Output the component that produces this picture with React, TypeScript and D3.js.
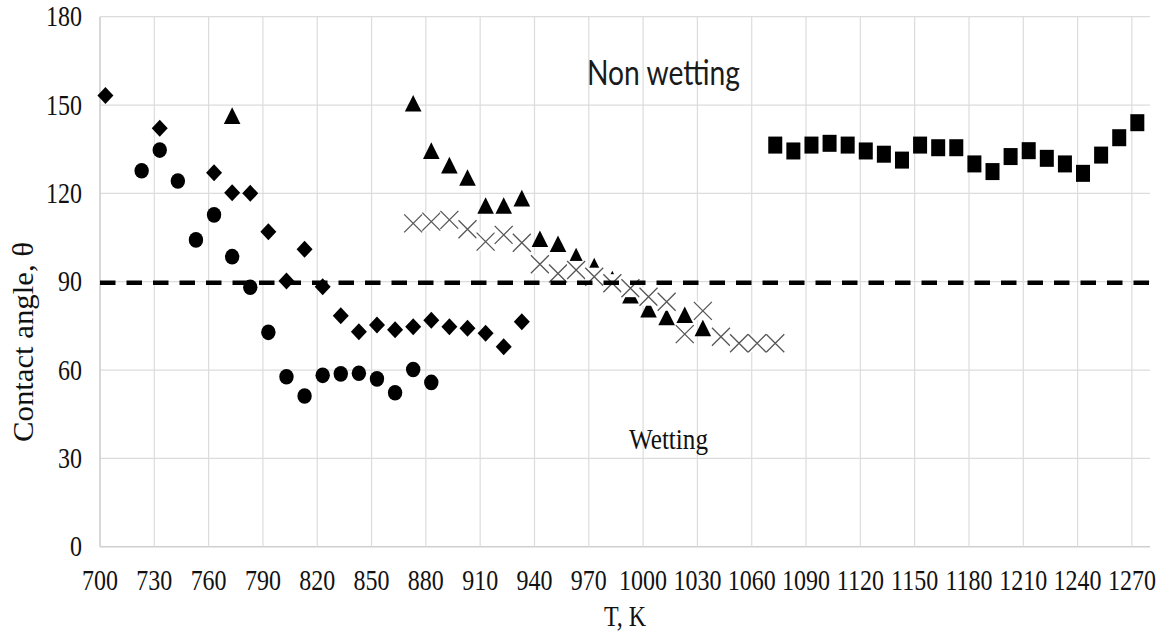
import React, { useEffect, useRef } from 'react';
import * as d3 from 'd3';

// diamonds
const diamondT = [703, 733, 763, 773, 783, 793, 803, 813, 823, 833, 843, 853, 863, 873, 883, 893, 903, 913, 923, 933];
const diamondAngle = [153.2, 142.1, 127.0, 120.2, 120.0, 107.0, 90.2, 101.0, 88.3, 78.4, 73.0, 75.3, 73.7, 74.7, 76.9, 74.7, 74.2, 72.5, 67.9, 76.4];

// circles
const circleT = [723, 733, 743, 753, 763, 773, 783, 793, 803, 813, 823, 833, 843, 853, 863, 873, 883];
const circleAngle = [127.7, 134.7, 124.2, 104.2, 112.7, 98.5, 88.1, 72.8, 57.7, 51.2, 58.2, 58.7, 58.9, 57.0, 52.3, 60.2, 55.8];

// triangles
const triangleT = [773, 873, 883, 893, 903, 913, 923, 933, 943, 953, 963, 973, 983, 993, 1003, 1013, 1023, 1033];
const triangleAngle = [146.4, 150.6, 134.5, 129.6, 125.4, 115.9, 115.9, 118.4, 104.6, 102.9, 98.7, 95.3, 90.9, 85.4, 80.7, 78.0, 78.8, 74.3];

// crosses
const crossT = [873, 883, 893, 903, 913, 923, 933, 943, 953, 963, 973, 983, 993, 1003, 1013, 1023, 1033, 1043, 1053, 1063, 1073];
const crossAngle = [109.8, 110.4, 111.0, 107.8, 103.6, 105.9, 103.2, 95.9, 92.8, 94.0, 91.7, 89.5, 87.8, 84.9, 83.2, 72.2, 80.1, 71.3, 69.1, 69.1, 69.1];

// squares
const squareT = [1073, 1083, 1093, 1103, 1113, 1123, 1133, 1143, 1153, 1163, 1173, 1183, 1193, 1203, 1213, 1223, 1233, 1243, 1253, 1263, 1273];
const squareAngle = [136.4, 134.4, 136.4, 137.0, 136.4, 134.4, 133.3, 131.3, 136.4, 135.5, 135.5, 130.0, 127.4, 132.5, 134.5, 131.9, 130.0, 126.8, 133.0, 138.9, 144.0];

const xTicks = d3.range(700, 1271, 30);
const yTicks = [0, 30, 60, 90, 120, 150, 180];
const boundary = 90;

const serif = '"Liberation Serif", "Times New Roman", serif';

export default function App() {
  const ref = useRef<SVGSVGElement>(null);

  useEffect(() => {
    document.body.style.margin = '0';
    const svg = d3.select(ref.current);
    svg.selectAll('*').remove();

    const x = d3.scaleLinear().domain([700, 1280]).range([100, 1150]);
    const y = d3.scaleLinear().domain([0, 180]).range([546.7, 16.7]);

    // grid
    const grid = svg.append('g');
    grid.selectAll('.hg')
      .data(yTicks)
      .enter()
      .append('line')
      .attr('x1', x(700))
      .attr('x2', x(1280))
      .attr('y1', d => y(d))
      .attr('y2', d => y(d))
      .attr('stroke', d => (d === 0 ? '#cfcfcf' : '#dcdcdc'))
      .attr('stroke-width', d => (d === 0 ? 1.6 : 1.2));

    grid.selectAll('.vg')
      .data(xTicks)
      .enter()
      .append('line')
      .attr('x1', d => x(d))
      .attr('x2', d => x(d))
      .attr('y1', y(180))
      .attr('y2', y(0))
      .attr('stroke', d => (d === 700 ? '#cfcfcf' : '#dcdcdc'))
      .attr('stroke-width', d => (d === 700 ? 1.6 : 1.2));

    // tick labels
    svg.append('g')
      .selectAll('text')
      .data(yTicks)
      .enter()
      .append('text')
      .attr('transform', d => `translate(82,${y(d)}) scale(1,1.2)`)
      .attr('y', 8)
      .attr('text-anchor', 'end')
      .style('font-family', serif)
      .style('font-size', '24px')
      .style('fill', '#111')
      .text(d => d);

    svg.append('g')
      .selectAll('text')
      .data(xTicks)
      .enter()
      .append('text')
      .attr('transform', d => `translate(${x(d)},590) scale(1,1.2)`)
      .attr('text-anchor', 'middle')
      .style('font-family', serif)
      .style('font-size', '24px')
      .style('fill', '#111')
      .text(d => d);

    // axis titles
    svg.append('text')
      .attr('transform', 'translate(33,342) rotate(-90)')
      .attr('text-anchor', 'middle')
      .attr('textLength', 200)
      .attr('lengthAdjust', 'spacingAndGlyphs')
      .style('font-family', serif)
      .style('font-size', '30px')
      .style('fill', '#111')
      .text('Contact angle, θ');

    svg.append('text')
      .attr('transform', 'translate(625,626) scale(1,1.2)')
      .attr('text-anchor', 'middle')
      .style('font-family', serif)
      .style('font-size', '24px')
      .style('fill', '#111')
      .text('T, K');

    // region labels
    svg.append('text')
      .attr('transform', 'translate(587,85) scale(1,1.2)')
      .attr('textLength', 153)
      .attr('lengthAdjust', 'spacingAndGlyphs')
      .style('font-family', 'Lato, "Open Sans", sans-serif')
      .style('font-size', '29px')
      .style('fill', '#1a1a1a')
      .text('Non wetting');

    svg.append('text')
      .attr('transform', 'translate(629,449) scale(1,1.25)')
      .attr('textLength', 79)
      .attr('lengthAdjust', 'spacingAndGlyphs')
      .style('font-family', serif)
      .style('font-size', '24px')
      .style('fill', '#111')
      .text('Wetting');

    const zip = (ts: number[], vs: number[]) => ts.map((t, i) => ({ t, v: vs[i] }));
    const marks = svg.append('g');

    // diamonds
    marks.selectAll('.dia')
      .data(zip(diamondT, diamondAngle))
      .enter()
      .append('path')
      .attr('d', d => {
        const cx = x(d.t), cy = y(d.v);
        return `M${cx},${cy - 8.5}L${cx + 8},${cy}L${cx},${cy + 8.5}L${cx - 8},${cy}Z`;
      })
      .attr('fill', '#000');

    // circles
    marks.selectAll('.cir')
      .data(zip(circleT, circleAngle))
      .enter()
      .append('ellipse')
      .attr('cx', d => x(d.t))
      .attr('cy', d => y(d.v))
      .attr('rx', 7.2)
      .attr('ry', 7.8)
      .attr('fill', '#000');

    // triangles
    marks.selectAll('.tri')
      .data(zip(triangleT, triangleAngle))
      .enter()
      .append('path')
      .attr('d', d => {
        const cx = x(d.t), cy = y(d.v);
        return `M${cx},${cy - 8.3}L${cx + 8.3},${cy + 8.3}L${cx - 8.3},${cy + 8.3}Z`;
      })
      .attr('fill', '#000');

    // squares
    marks.selectAll('.sq')
      .data(zip(squareT, squareAngle))
      .enter()
      .append('rect')
      .attr('x', d => x(d.t) - 7)
      .attr('y', d => y(d.v) - 8.5)
      .attr('width', 14)
      .attr('height', 17)
      .attr('fill', '#000');

    // crosses on white boxes, drawn over the triangles
    const cross = marks.selectAll('.cr')
      .data(zip(crossT, crossAngle))
      .enter()
      .append('g')
      .attr('transform', d => `translate(${x(d.t)},${y(d.v)})`);

    cross.append('rect')
      .attr('x', -9)
      .attr('y', -9)
      .attr('width', 18)
      .attr('height', 18)
      .attr('fill', '#fff');

    cross.append('path')
      .attr('d', 'M-9,-9L9,9M-9,9L9,-9')
      .attr('stroke', '#555')
      .attr('stroke-width', 1.3)
      .attr('fill', 'none');

    // 90 degree boundary
    svg.append('line')
      .attr('x1', x(700))
      .attr('x2', x(1280))
      .attr('y1', y(boundary) + 1)
      .attr('y2', y(boundary) + 1)
      .attr('stroke', '#000')
      .attr('stroke-width', 4.5)
      .attr('stroke-dasharray', '15.5 11');
  }, []);

  return <svg ref={ref} width={1161} height={634} style={{ display: 'block', background: '#fff' }} />;
}
